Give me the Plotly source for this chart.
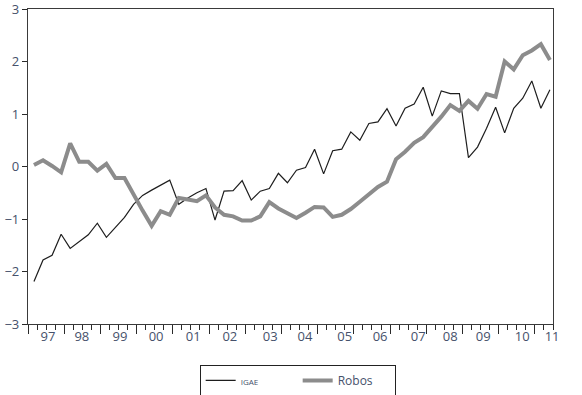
import plotly.graph_objects as go

# Quarterly observations (index 0 ~ 1997Q1)
igae = [-2.19, -1.78, -1.69, -1.29, -1.56, -1.43, -1.30, -1.08, -1.35, -1.16,
        -0.97, -0.72, -0.55, -0.45, -0.36, -0.26, -0.72, -0.60, -0.50, -0.42,
        -1.02, -0.47, -0.46, -0.27, -0.64, -0.47, -0.42, -0.13, -0.31, -0.07,
        -0.02, 0.33, -0.14, 0.30, 0.33, 0.66, 0.50, 0.82, 0.85, 1.10,
        0.77, 1.11, 1.19, 1.51, 0.96, 1.44, 1.39, 1.39, 0.17, 0.37,
        0.73, 1.13, 0.64, 1.11, 1.30, 1.63, 1.11, 1.46]
robos = [0.03, 0.12, 0.01, -0.11, 0.44, 0.09, 0.09, -0.08, 0.05, -0.22,
         -0.22, -0.54, -0.84, -1.13, -0.85, -0.92, -0.60, -0.63, -0.66, -0.55,
         -0.78, -0.92, -0.95, -1.03, -1.03, -0.95, -0.68, -0.80, -0.90, -0.98,
         -0.88, -0.77, -0.78, -0.96, -0.92, -0.81, -0.67, -0.52, -0.39, -0.29,
         0.14, 0.28, 0.45, 0.56, 0.75, 0.95, 1.17, 1.06, 1.25, 1.10,
         1.38, 1.33, 2.00, 1.85, 2.12, 2.21, 2.33, 2.03]
year_labels = ["97", "98", "99", "00", "01", "02", "03", "04", "05", "06",
               "07", "08", "09", "10", "11"]
year_label_pos = [2.2, 5.95, 10.15, 14.15, 18.25, 22.3, 26.75, 30.6, 35.0, 38.9,
                  43.1, 46.65, 50.3, 54.6, 57.9]
y_ticks = [-3, -2, -1, 0, 1, 2, 3]

x = [i + 0.66 for i in range(len(igae))]
XR = [0, 58]

fig = go.Figure()
fig.add_trace(go.Scatter(x=x, y=igae, mode="lines", name='<span style="font-size:8px">IGAE</span>',
                         line=dict(color="#1e1e1e", width=1.2)))
fig.add_trace(go.Scatter(x=x, y=robos, mode="lines", name="Robos",
                         line=dict(color="#8c8c8c", width=4)))
fig.add_trace(go.Scatter(x=[None], y=[None], xaxis="x2", showlegend=False, hoverinfo="skip"))

tickfont = dict(family="Open Sans", size=13, color="#46516b")
fig.update_layout(
    width=582, height=395,
    margin=dict(l=28, r=29, t=9, b=71, autoexpand=False),
    paper_bgcolor="white", plot_bgcolor="white",
    font=dict(family="Open Sans", size=13, color="#46516b"),
    showlegend=True,
    legend=dict(orientation="h", x=0.327, xanchor="left", y=-0.13, yanchor="top",
                bordercolor="#222", borderwidth=1, bgcolor="white",
                font=dict(family="Open Sans", size=12, color="#46516b"),
                entrywidth=52, entrywidthmode="pixels", itemwidth=30, tracegroupgap=0),
    xaxis=dict(range=XR, tickmode="array", tickvals=year_label_pos, ticktext=year_labels,
               ticks="", showgrid=False, zeroline=False, showline=True, mirror=True,
               linecolor="#3a3a3a", linewidth=1.2, tickfont=tickfont, automargin=False,
               ticklabeloverflow="allow"),
    xaxis2=dict(range=XR, overlaying="x", anchor="y", side="bottom", automargin=False,
                tickmode="linear", tick0=0, dtick=4, ticks="outside", ticklen=9,
                tickwidth=1.2, tickcolor="#2a2a2a", showticklabels=False,
                showgrid=False, zeroline=False, showline=False,
                minor=dict(tickmode="linear", tick0=0, dtick=1, ticks="outside",
                           ticklen=5, tickwidth=1, tickcolor="#2a2a2a", showgrid=False)),
    yaxis=dict(range=[-3, 3], tickmode="array", tickvals=y_ticks, ticks="outside",
               ticklen=5, tickwidth=1.2, tickcolor="#2a2a2a", automargin=False,
               showgrid=False, zeroline=False, showline=True, mirror=True,
               linecolor="#3a3a3a", linewidth=1.2, tickfont=tickfont,
               ticklabeloverflow="allow"),
)

fig.write_html("out.html", config={"displayModeBar": False},
               post_script="document.body.style.margin='0';")
